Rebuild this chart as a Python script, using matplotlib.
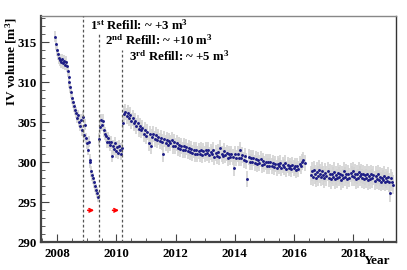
import numpy as np
import matplotlib
matplotlib.use("Agg")
import matplotlib.pyplot as plt
from matplotlib.ticker import MultipleLocator

# measurement periods: (first date, last date) in decimal years
seg_a_span = (2007.93, 2009.38)   # initial fill, through 1st refill
seg_c_span = (2009.42, 2010.18)   # after 2nd refill
seg_d_span = (2010.22, 2016.36)   # after 3rd refill
seg_e_span = (2016.57, 2019.36)   # after the 2016 gap

seg_a_vol = [315.7, 314.8, 314.0, 313.5, 313.0, 312.8, 312.5, 312.9, 312.4, 312.7,
             312.2, 312.6, 312.0, 311.4, 310.7, 310.0, 309.4, 308.8, 308.0, 307.5,
             307.0, 306.6, 306.2, 305.6, 305.9, 305.1, 304.6, 305.3, 304.0, 305.7,
             303.4, 304.7, 303.0, 302.4, 301.6, 302.6, 300.0, 300.3, 298.9, 298.4,
             298.0, 297.5, 297.0, 296.6, 296.2, 295.7]
seg_c_vol = [302.9, 304.4, 305.3, 304.7, 305.2, 304.0, 303.6, 303.3, 302.6, 303.0,
             302.6, 302.2, 302.5, 300.8, 302.0, 301.7, 302.4, 301.4, 301.9, 301.2,
             302.0, 301.6, 301.1, 301.8]
seg_d_vol = [304.9, 306.0, 306.3, 305.8, 306.2, 305.5, 305.9, 305.2, 305.6, 304.9,
             305.2, 304.6, 304.9, 304.2, 304.5, 304.0, 304.3, 303.6, 304.1, 303.3,
             303.8, 302.4, 303.5, 302.0, 303.2, 303.6, 302.9, 303.4, 302.8, 303.2,
             302.7, 303.1, 302.5, 301.1, 302.9, 302.4, 302.8, 302.2, 302.7, 302.4,
             302.8, 302.1, 302.5, 302.0, 302.4, 301.8, 302.2, 301.7, 302.1, 301.6,
             302.0, 301.5, 301.9, 301.4, 301.8, 301.3, 301.7, 301.2, 301.6, 301.1,
             301.5, 301.0, 301.4, 301.1, 301.6, 300.9, 301.4, 301.0, 301.5, 301.2,
             301.6, 300.9, 301.3, 301.0, 301.5, 300.7, 301.2, 300.8, 301.3, 300.7,
             301.8, 301.1, 300.8, 301.4, 300.9, 301.2, 300.6, 301.1, 300.7, 301.0,
             300.7, 299.3, 301.0, 300.6, 301.1, 300.5, 301.6, 300.6, 300.9, 300.3,
             300.8, 300.2, 297.9, 300.7, 300.1, 300.5, 300.0, 300.6, 299.9, 300.4,
             299.8, 300.3, 299.9, 300.4, 299.7, 300.2, 299.8, 300.1, 299.6, 300.0,
             299.5, 300.0, 299.6, 299.9, 299.4, 299.8, 299.3, 299.8, 299.5, 299.9,
             299.3, 299.7, 299.4, 299.9, 299.2, 299.7, 299.3, 299.6, 299.2, 299.7,
             299.3, 299.6, 299.0, 299.5, 299.2, 299.8, 299.5, 300.1, 300.3, 299.9]
seg_e_vol = [298.4, 298.9, 298.2, 299.0, 298.5, 298.1, 298.8, 298.3, 299.1, 298.6,
             298.2, 298.9, 298.4, 298.0, 298.7, 298.3, 298.9, 298.1, 298.6, 297.9,
             298.5, 298.2, 298.8, 297.9, 298.4, 298.0, 298.7, 298.2, 298.5, 297.8,
             298.4, 298.0, 298.9, 298.2, 298.6, 297.9, 298.5, 298.1, 298.7, 298.3,
             298.9, 298.2, 298.6, 297.9, 298.5, 298.0, 298.8, 298.3, 298.6, 298.0,
             298.5, 297.9, 298.4, 298.0, 298.6, 297.8, 298.3, 297.9, 298.5, 298.0,
             298.4, 297.7, 298.3, 297.9, 298.5, 297.8, 298.2, 297.6, 298.1, 297.8,
             298.3, 297.6, 298.0, 297.7, 298.2, 297.5, 296.2, 298.0, 297.6, 297.2]
seg_err = [0.7, 0.8, 1.0, 1.2]   # typical uncertainty per period [m3]

refill_dates = [2008.87, 2009.41, 2010.19]
refill_tops = [318.3, 316.2, 314.0]
refill_labels = [r"1$^{\mathbf{st}}$ Refill: ~ +3 m$^{\mathbf{3}}$",
                 r"2$^{\mathbf{nd}}$ Refill: ~ +10 m$^{\mathbf{3}}$",
                 r"3$^{\mathbf{rd}}$ Refill: ~ +5 m$^{\mathbf{3}}$"]
label_pos = [(2009.11, 316.6), (2009.62, 314.66), (2010.44, 312.66)]

# red arrows marking the refill campaigns
arrow_spans = [(2009.03, 2009.25), (2009.87, 2010.09)]
arrow_level = 294.0

plt.rcParams["font.family"] = ["Liberation Serif", "DejaVu Serif"]
plt.rcParams["font.weight"] = "bold"
plt.rcParams["mathtext.fontset"] = "custom"
plt.rcParams["mathtext.rm"] = "Liberation Serif:bold"
plt.rcParams["mathtext.bf"] = "Liberation Serif:bold"
plt.rcParams["mathtext.it"] = "Liberation Serif:bold"

fig = plt.figure(figsize=(4.07, 2.70), dpi=100)
ax = fig.add_axes([0.1007, 0.1026, 0.8723, 0.838])

segments = [(seg_a_span, seg_a_vol), (seg_c_span, seg_c_vol),
            (seg_d_span, seg_d_vol), (seg_e_span, seg_e_vol)]
for (span, vol), err in zip(segments, seg_err):
    t = np.linspace(span[0], span[1], len(vol))
    ax.errorbar(t, vol, yerr=err, fmt="o", ms=2.1, mfc="#1c1c86", mec="#1c1c86",
                mew=0, ecolor="#d2d2d2", elinewidth=1.2, capsize=0, zorder=3)

ax.vlines(refill_dates, 290, refill_tops, colors="#555555", lw=0.9,
          linestyles=(0, (2.2, 1.8)), zorder=4)
for lab, (lx, ly) in zip(refill_labels, label_pos):
    ax.text(lx, ly, lab, fontsize=9.3, fontweight="bold", va="baseline", ha="left")

for x0, x1 in arrow_spans:
    ax.annotate("", xy=(x1, arrow_level), xytext=(x0, arrow_level),
                arrowprops=dict(arrowstyle="->", color="red", lw=1.2,
                                shrinkA=0, shrinkB=0, mutation_scale=6))

ax.set_xlim(2007.45, 2019.45)
ax.set_ylim(290, 318.3)
ax.xaxis.set_major_locator(MultipleLocator(2))
ax.xaxis.set_minor_locator(MultipleLocator(0.5))
ax.yaxis.set_major_locator(MultipleLocator(5))
ax.yaxis.set_minor_locator(MultipleLocator(1))
ax.tick_params(which="both", direction="in", top=False, right=False,
               labelsize=9.3, color="#444444")
ax.tick_params(which="major", length=6)
ax.tick_params(which="minor", length=3)
ax.tick_params(axis="x", pad=4)
ax.tick_params(axis="y", pad=3)
for lab in ax.get_xticklabels() + ax.get_yticklabels():
    lab.set_fontweight("bold")

ax.spines["left"].set_linewidth(1.6)
ax.spines["bottom"].set_linewidth(1.6)
ax.spines["left"].set_color("#444444")
ax.spines["bottom"].set_color("#444444")
ax.spines["top"].set_color("#888888")
ax.spines["top"].set_linewidth(1.0)
ax.spines["right"].set_color("#333333")
ax.spines["right"].set_linewidth(1.0)

fig.text(0.028, 0.935, r"IV volume [m$^{\mathbf{3}}$]", rotation=90, fontsize=9.5,
         fontweight="bold", ha="center", va="top")
fig.text(0.958, 0.022, "Year", fontsize=9.5, fontweight="bold", ha="right",
         va="baseline")

fig.savefig("out.png", dpi=100)
